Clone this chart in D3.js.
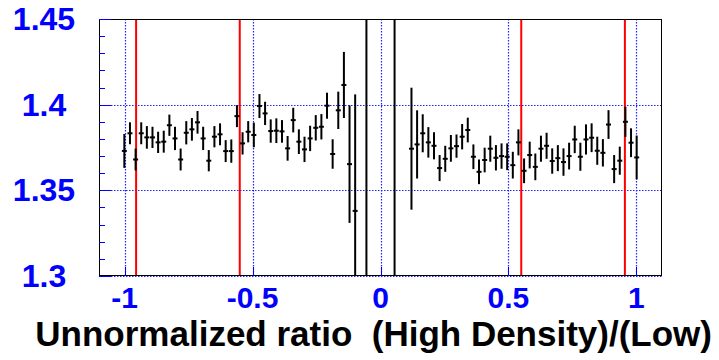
<!DOCTYPE html>
<html>
<head>
<meta charset="utf-8">
<script src="https://cdn.jsdelivr.net/npm/d3@7.9.0/dist/d3.min.js"></script>
<style>
  body { margin: 0; background: #fff; }
  svg { display: block; }
  text { font-family: "Liberation Sans", Arial, sans-serif; font-weight: bold; white-space: pre; }
</style>
</head>
<body>
<svg id="chart" width="719" height="360"></svg>
<script>
// histogram binning (100 bins over [-1.1, 1.1])
const nBins = 100;
const xMin = -1.1, xMax = 1.1;

// left block of filled bins, starting at bin 4
const leftStart = 4;
const leftValues = [1.373, 1.3833, 1.368, 1.3833, 1.3809, 1.3809, 1.378, 1.3784, 1.388, 1.3803,
  1.368, 1.3836, 1.3856, 1.3897, 1.3803, 1.3673, 1.3813, 1.3827, 1.3729, 1.3729,
  1.3933, 1.3774, 1.3842, 1.3823, 1.3992, 1.3949, 1.3846, 1.3848, 1.3844, 1.3745,
  1.391, 1.3784, 1.3739, 1.3803, 1.3865, 1.3871, 1.3994, 1.3712, 1.3967, 1.4115,
  1.3653, 1.338];
const leftErrors = [0.0099, 0.0064, 0.0064, 0.0064, 0.0066, 0.0062, 0.0062, 0.0064, 0.0062, 0.0068,
  0.0064, 0.0068, 0.0066, 0.0066, 0.0068, 0.0062, 0.0062, 0.0064, 0.0064, 0.0068,
  0.0064, 0.0065, 0.0062, 0.0072, 0.007, 0.0068, 0.0068, 0.0072, 0.0066, 0.0072,
  0.0072, 0.0072, 0.0074, 0.0074, 0.0074, 0.0074, 0.0076, 0.0086, 0.0109, 0.0193,
  0.0343, 0.068];

// right block, starting at bin 55
const rightStart = 55;
const rightValues = [1.3743, 1.3768, 1.3833, 1.378, 1.376, 1.363, 1.3684, 1.3745, 1.3758, 1.3813,
  1.3852, 1.3696, 1.3608, 1.3677, 1.3743, 1.369, 1.370, 1.3696, 1.3647, 1.378,
  1.3614, 1.3706, 1.3637, 1.3743, 1.376, 1.3671, 1.3688, 1.3665, 1.37, 1.3797,
  1.3696, 1.3797, 1.3807, 1.3731, 1.3719, 1.3884, 1.3624, 1.3673, 1.39, 1.3778,
  1.3692];
const rightErrors = [0.0356, 0.0199, 0.0111, 0.0089, 0.0079, 0.0076, 0.0076, 0.0078, 0.0068, 0.0074,
  0.0072, 0.0072, 0.0072, 0.0072, 0.0076, 0.0074, 0.0074, 0.0078, 0.0078, 0.0076,
  0.0072, 0.0078, 0.0078, 0.0076, 0.0076, 0.0074, 0.0076, 0.008, 0.0078, 0.008,
  0.0082, 0.0088, 0.0084, 0.0082, 0.008, 0.0084, 0.0082, 0.0082, 0.0088, 0.0084,
  0.0128];

// bins next to zero whose error bars run past the whole frame
const wideBins = [47, 52];
const wideValues = [1.2, 1.2];
const wideErrors = [0.5, 0.5];

// red cut lines
const cutLines = [-0.955, -0.55, 0.55, 0.955];

const xTicks = [-1, -0.5, 0, 0.5, 1];
const xTickLabels = ['-1', '-0.5', '0', '0.5', '1'];
const yTicks = [1.3, 1.35, 1.4, 1.45];
const yTickLabels = ['1.3', '1.35', '1.4', '1.45'];
const xTitle = 'Unnormalized ratio  (High Density)/(Low)';

const svg = d3.select('#chart');
const frame = { left: 99, right: 662, top: 19, bottom: 276 };

const x = d3.scaleLinear().domain([xMin, xMax]).range([frame.left, frame.right]);
const y = d3.scaleLinear().domain([1.3, 1.45]).range([frame.bottom, frame.top]);

const binCenter = k => xMin + (k + 0.5) * (xMax - xMin) / nBins;

const points = [];
leftValues.forEach((v, i) => points.push({ bin: leftStart + i, v, e: leftErrors[i] }));
rightValues.forEach((v, i) => points.push({ bin: rightStart + i, v, e: rightErrors[i] }));
wideBins.forEach((b, i) => points.push({ bin: b, v: wideValues[i], e: wideErrors[i] }));

svg.append('defs').append('clipPath').attr('id', 'clip')
  .append('rect')
  .attr('x', frame.left).attr('y', frame.top)
  .attr('width', frame.right - frame.left).attr('height', frame.bottom - frame.top);

// grid (dotted blue)
const grid = svg.append('g')
  .attr('stroke', '#2020ff')
  .attr('stroke-width', 1.2)
  .attr('stroke-dasharray', '1.5,1.5');

grid.selectAll('line.gx')
  .data(xTicks)
  .join('line')
  .attr('x1', d => Math.round(x(d)) + 0.5).attr('x2', d => Math.round(x(d)) + 0.5)
  .attr('y1', frame.top).attr('y2', frame.bottom);

grid.selectAll('line.gy')
  .data(yTicks)
  .join('line')
  .attr('y1', d => Math.round(y(d)) + 0.5).attr('y2', d => Math.round(y(d)) + 0.5)
  .attr('x1', frame.left).attr('x2', frame.right);

// cut lines
svg.append('g')
  .selectAll('line')
  .data(cutLines)
  .join('line')
  .attr('x1', d => x(d)).attr('x2', d => x(d))
  .attr('y1', frame.top).attr('y2', frame.bottom)
  .attr('stroke', '#ff0000')
  .attr('stroke-width', 2);

// data points with error bars
const pts = svg.append('g').attr('clip-path', 'url(#clip)');

pts.selectAll('line.err')
  .data(points)
  .join('line')
  .attr('class', 'err')
  .attr('x1', d => x(binCenter(d.bin))).attr('x2', d => x(binCenter(d.bin)))
  .attr('y1', d => y(d.v + d.e)).attr('y2', d => y(d.v - d.e))
  .attr('stroke', '#000')
  .attr('stroke-width', 2);

pts.selectAll('line.mark')
  .data(points)
  .join('line')
  .attr('class', 'mark')
  .attr('x1', d => x(binCenter(d.bin)) - 2.5).attr('x2', d => x(binCenter(d.bin)) + 2.5)
  .attr('y1', d => y(d.v)).attr('y2', d => y(d.v))
  .attr('stroke', '#000')
  .attr('stroke-width', 2);

// frame
svg.append('rect')
  .attr('x', frame.left + 0.5).attr('y', frame.top + 0.5)
  .attr('width', frame.right - frame.left - 1).attr('height', frame.bottom - frame.top - 1)
  .attr('fill', 'none')
  .attr('stroke', '#000')
  .attr('stroke-width', 1);

// y axis ticks
const yMinor = d3.range(130, 146).map(d => d / 100);
svg.append('g')
  .attr('stroke', '#0000ff')
  .selectAll('line')
  .data(yMinor)
  .join('line')
  .attr('x1', frame.left)
  .attr('x2', d => frame.left + (Math.abs(d * 20 - Math.round(d * 20)) < 1e-6 ? 12 : 6))
  .attr('y1', d => Math.round(y(d)) + 0.5).attr('y2', d => Math.round(y(d)) + 0.5);

// x axis ticks
svg.append('g')
  .attr('stroke', '#0000ff')
  .selectAll('line')
  .data(xTicks)
  .join('line')
  .attr('x1', d => Math.round(x(d)) + 0.5).attr('x2', d => Math.round(x(d)) + 0.5)
  .attr('y1', frame.bottom).attr('y2', frame.bottom - 9);

// tick labels
svg.append('g')
  .attr('fill', '#0000ff')
  .attr('font-size', 32)
  .attr('text-anchor', 'middle')
  .selectAll('text')
  .data(yTicks)
  .join('text')
  .attr('x', 44)
  .attr('y', d => y(d) + 11)
  .text((d, i) => yTickLabels[i]);

svg.append('g')
  .attr('fill', '#0000ff')
  .attr('font-size', 30)
  .attr('text-anchor', 'middle')
  .selectAll('text')
  .data(xTicks)
  .join('text')
  .attr('x', d => x(d))
  .attr('y', 308)
  .text((d, i) => xTickLabels[i]);

svg.append('text')
  .attr('x', 712)
  .attr('y', 346)
  .attr('text-anchor', 'end')
  .attr('font-size', 35)
  .attr('fill', '#000')
  .text(xTitle);
</script>
</body>
</html>
